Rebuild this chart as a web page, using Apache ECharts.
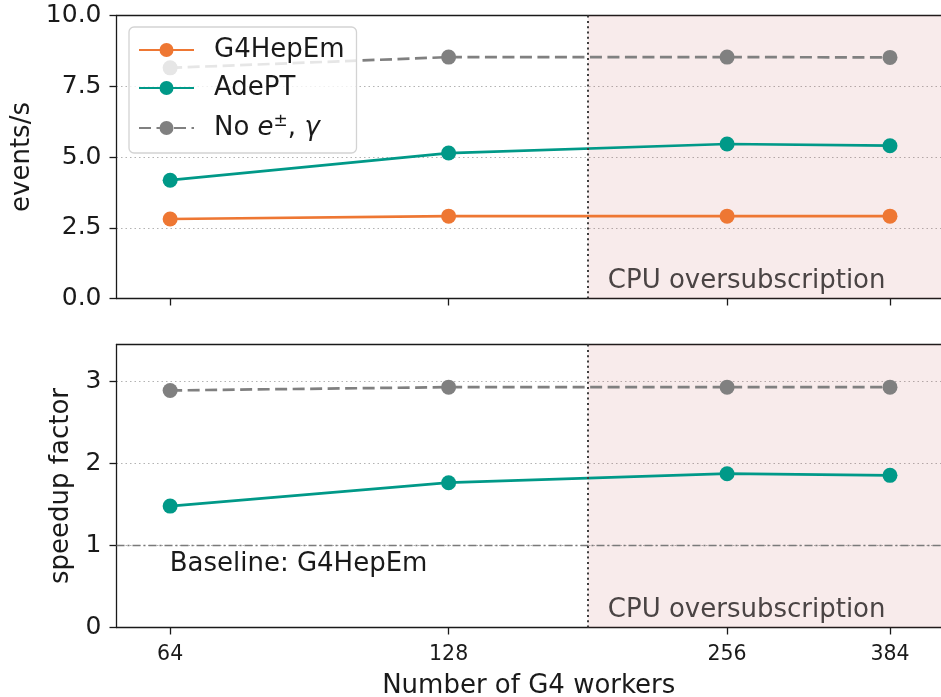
<!DOCTYPE html>
<html>
<head>
<meta charset="utf-8">
<script src="https://cdn.jsdelivr.net/npm/echarts@6/dist/echarts.min.js"></script>
<style>
  html, body { margin: 0; padding: 0; background: #ffffff; }
  #chart { width: 941px; height: 697px; }
</style>
</head>
<body>
<div id="chart"></div>
<script>
// Throughput and speedup vs. number of Geant4 worker threads
const workers = [64, 128, 256, 384];
const eventsG4HepEm = [2.81, 2.91, 2.91, 2.91];
const eventsAdePT = [4.18, 5.14, 5.46, 5.40];
const eventsNoEm = [8.15, 8.53, 8.53, 8.52];
const speedupAdePT = [1.48, 1.765, 1.875, 1.855];
const speedupNoEm = [2.89, 2.93, 2.93, 2.93];

const eventsTicks = [0, 2.5, 5, 7.5, 10];
const speedupTicks = [0, 1, 2, 3];
const workerRange = [56, 436];
const eventsRange = [0, 10];
const speedupRange = [0, 3.45];
const oversubscriptionStart = 181;
const baselineSpeedup = 1;

const NAME_G4 = 'G4HepEm';
const NAME_ADEPT = 'AdePT';
const NAME_NOEM = 'No e±, γ';

const FONT = 'DejaVu Sans';
const INK = '#1a1a1a';
const ORANGE = '#EE7733';
const TEAL = '#009988';
const GREY = '#808080';

const lg = v => Math.log2(v);
const xs = workers.map(lg);
const pairs = vals => xs.map((x, i) => [x, vals[i]]);

const chart = echarts.init(document.getElementById('chart'), null, { renderer: 'canvas' });

// Plot panels run off the right edge, so only left, bottom and top spines are drawn
function gridBox(top) {
  return { left: 116.5, right: 0, top: top, height: 283, show: false, outerBoundsMode: 'none', containLabel: false };
}

const spine = { show: true, lineStyle: { color: INK, width: 1.3 } };

function xAxisFor(idx, withLabels) {
  return {
    type: 'value', gridIndex: idx, position: 'bottom',
    min: lg(workerRange[0]), max: lg(workerRange[1]),
    axisLine: spine,
    axisTick: { show: true, customValues: xs, length: 7, lineStyle: { color: INK, width: 1.3 } },
    axisLabel: {
      show: withLabels, customValues: xs, margin: 17,
      formatter: v => String(Math.round(Math.pow(2, v))),
      fontFamily: FONT, fontSize: 20.5, color: INK
    },
    splitLine: { show: false },
    name: withLabels ? 'Number of G4 workers' : '',
    nameLocation: 'middle', nameGap: 46,
    nameTextStyle: { fontFamily: FONT, fontSize: 26, color: INK }
  };
}

function topSpine(idx) {
  return {
    type: 'value', gridIndex: idx, position: 'top',
    min: lg(workerRange[0]), max: lg(workerRange[1]),
    axisLine: spine, axisTick: { show: false }, axisLabel: { show: false },
    splitLine: { show: false }
  };
}

function yAxisFor(idx, range, ticks, fmt, name, gap) {
  return {
    type: 'value', gridIndex: idx, min: range[0], max: range[1],
    axisLine: spine,
    axisTick: { show: true, customValues: ticks, length: 7, lineStyle: { color: INK, width: 1.3 } },
    axisLabel: {
      customValues: ticks, formatter: fmt, margin: 15,
      fontFamily: FONT, fontSize: 25, color: INK
    },
    splitLine: {
      show: true, showMinLine: false, showMaxLine: true,
      lineStyle: { color: '#b3b3b3', width: 1, type: [1.5, 3] }
    },
    name: name, nameLocation: 'middle', nameRotate: 90, nameGap: gap,
    nameTextStyle: { fontFamily: FONT, fontSize: 26, color: INK }
  };
}

function lineSeries(name, color, values, idx, dashed) {
  return {
    name: name, type: 'line', xAxisIndex: idx, yAxisIndex: idx,
    data: pairs(values), symbol: 'circle', symbolSize: 15, showSymbol: true,
    lineStyle: { color: color, width: 2.7, type: dashed ? [12, 5.5] : 'solid' },
    itemStyle: { color: color }, z: 3, silent: true
  };
}

// Shaded band + dotted boundary marking the oversubscribed region
function oversubscription(idx) {
  return {
    name: 'oversub' + idx, type: 'line', xAxisIndex: idx, yAxisIndex: idx,
    data: [], z: 5, silent: true,
    markArea: {
      silent: true,
      itemStyle: { color: 'rgba(190,60,60,0.10)' },
      label: {
        show: true, position: 'insideBottomLeft', distance: 4, offset: [16, 0],
        formatter: 'CPU oversubscription',
        fontFamily: FONT, fontSize: 26, color: '#4a4444'
      },
      data: [[{ xAxis: lg(oversubscriptionStart) }, { xAxis: lg(workerRange[1]) }]]
    },
    markLine: {
      silent: true, symbol: ['none', 'none'], label: { show: false },
      lineStyle: { color: '#3d3d3d', width: 2, type: [2, 3.3] },
      data: [{ xAxis: lg(oversubscriptionStart) }]
    }
  };
}

const option = {
  animation: false,
  backgroundColor: '#ffffff',
  grid: [gridBox(15.5), gridBox(344.5)],
  xAxis: [xAxisFor(0, false), xAxisFor(1, true), topSpine(0), topSpine(1)],
  yAxis: [
    yAxisFor(0, eventsRange, eventsTicks, v => v.toFixed(1), 'events/s', 80),
    yAxisFor(1, speedupRange, speedupTicks, v => String(v), 'speedup factor', 39)
  ],
  legend: {
    data: [NAME_G4, NAME_ADEPT, NAME_NOEM],
    orient: 'vertical', left: 129, top: 27,
    itemWidth: 55, itemHeight: 17.5, itemGap: 12,
    padding: [10, 12, 9, 9],
    backgroundColor: 'rgba(255,255,255,0.8)',
    borderColor: '#d3d3d3', borderWidth: 1.3, borderRadius: 5,
    selectedMode: false,
    textStyle: {
      fontFamily: FONT, fontSize: 26, color: INK, padding: [0, 0, 0, 15],
      rich: {
        t: { fontFamily: FONT, fontSize: 26, color: INK, lineHeight: 30 },
        i: { fontFamily: FONT, fontSize: 26, fontStyle: 'italic', color: INK, lineHeight: 30 },
        s: { fontFamily: FONT, fontSize: 17, color: INK, verticalAlign: 'top', lineHeight: 30, padding: [0, 0, 14, 0] }
      }
    },
    formatter: name => name === NAME_NOEM ? '{t|No }{i|e}{s|±}{t|, }{i|γ}' : name
  },
  series: [
    lineSeries(NAME_G4, ORANGE, eventsG4HepEm, 0, false),
    lineSeries(NAME_ADEPT, TEAL, eventsAdePT, 0, false),
    lineSeries(NAME_NOEM, GREY, eventsNoEm, 0, true),
    lineSeries(NAME_ADEPT, TEAL, speedupAdePT, 1, false),
    lineSeries(NAME_NOEM, GREY, speedupNoEm, 1, true),
    {
      name: 'baseline', type: 'line', xAxisIndex: 1, yAxisIndex: 1,
      data: [], z: 1, silent: true,
      markLine: {
        silent: true, symbol: ['none', 'none'], label: { show: false },
        lineStyle: { color: '#7a7a7a', width: 1.3, type: [8, 3, 2, 3] },
        data: [{ yAxis: baselineSpeedup }]
      },
      markPoint: {
        silent: true, symbol: 'rect', symbolSize: 1,
        itemStyle: { color: 'rgba(0,0,0,0)' },
        label: {
          show: true, position: [0, 6], align: 'left', verticalAlign: 'top',
          formatter: 'Baseline: ' + NAME_G4,
          fontFamily: FONT, fontSize: 26, color: INK
        },
        data: [{ coord: [xs[0], baselineSpeedup] }]
      }
    },
    oversubscription(0),
    oversubscription(1)
  ]
};

chart.setOption(option);
</script>
</body>
</html>
